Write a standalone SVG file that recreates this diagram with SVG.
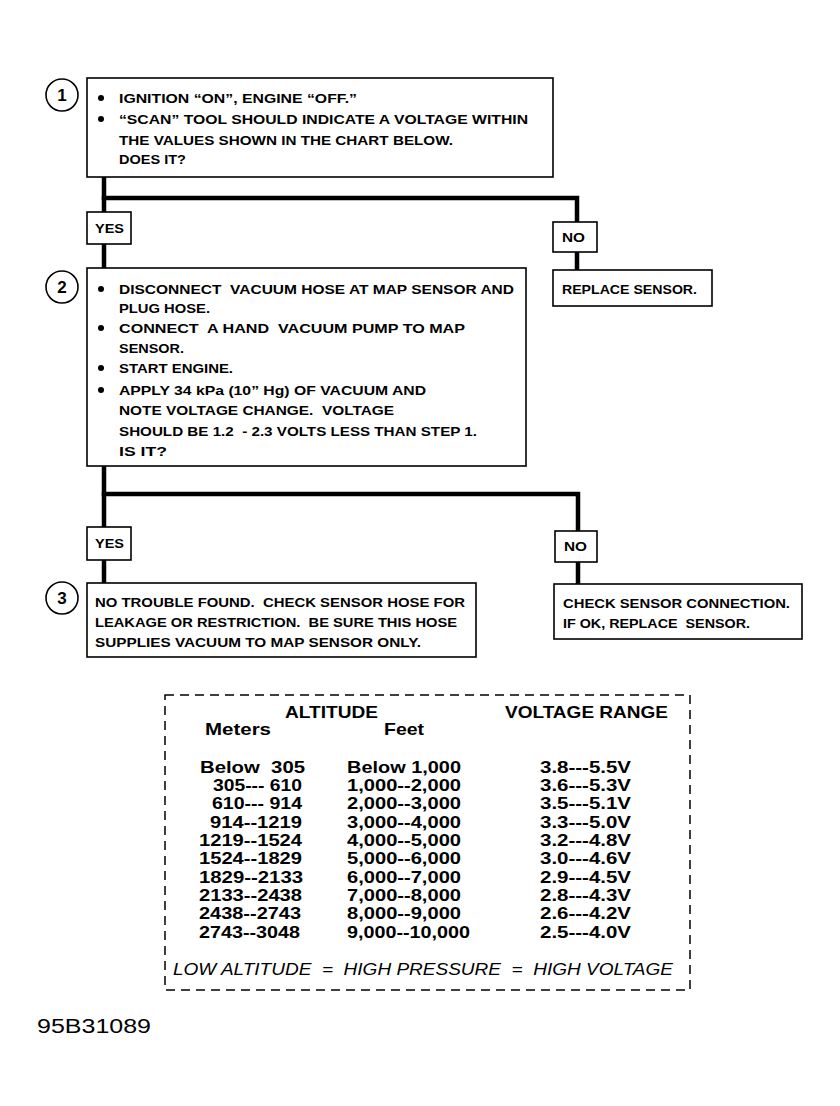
<svg xmlns="http://www.w3.org/2000/svg" width="840" height="1106" viewBox="0 0 840 1106">
<style>
text{white-space:pre}
.box{fill:#fff;stroke:#000;stroke-width:1.6}
.conn{fill:none;stroke:#000;stroke-width:4.5;stroke-linecap:square}
.t{font-family:"Liberation Sans",Arial,sans-serif;font-weight:bold;font-size:13px;fill:#000}
.num{font-family:"Liberation Sans",Arial,sans-serif;font-weight:bold;font-size:17px;fill:#000;text-anchor:middle}
.tb{font-family:"Liberation Sans",Arial,sans-serif;font-weight:bold;font-size:17px;fill:#000}
.it{font-family:"Liberation Sans",Arial,sans-serif;font-style:italic;font-size:17px;fill:#000}
.id{font-family:"Liberation Sans",Arial,sans-serif;font-size:20px;fill:#000}
</style>
<rect width="840" height="1106" fill="#fff"/>
<g id="connectors">
<path class="conn" d="M104,177 V268"/>
<path class="conn" d="M104,198 H577 V222"/>
<path class="conn" d="M577,252 V270"/>
<path class="conn" d="M104,466 V583"/>
<path class="conn" d="M104,494 H578 V531"/>
<path class="conn" d="M578,562 V584"/>
</g>
<g id="step1">
<circle cx="62" cy="95" r="16" fill="#fff" stroke="#000" stroke-width="1.6"/>
<text class="num" x="62" y="101">1</text>
<rect class="box" x="87" y="78" width="466" height="99"/>
<circle cx="101" cy="98" r="3"/>
<circle cx="101" cy="119" r="3"/>
<text class="t" x="119" y="103" textLength="238" lengthAdjust="spacingAndGlyphs">IGNITION “ON”, ENGINE “OFF.”</text>
<text class="t" x="119" y="124" textLength="409" lengthAdjust="spacingAndGlyphs">“SCAN” TOOL SHOULD INDICATE A VOLTAGE WITHIN</text>
<text class="t" x="119" y="145" textLength="334" lengthAdjust="spacingAndGlyphs">THE VALUES SHOWN IN THE CHART BELOW.</text>
<text class="t" x="119" y="164" textLength="67" lengthAdjust="spacingAndGlyphs">DOES IT?</text>
</g>
<g id="yes1">
<rect class="box" x="87" y="212" width="44" height="32"/>
<text class="t" x="95" y="233" textLength="29" lengthAdjust="spacingAndGlyphs">YES</text>
</g>
<g id="no1">
<rect class="box" x="553" y="222" width="44" height="30"/>
<text class="t" x="562" y="242" textLength="23" lengthAdjust="spacingAndGlyphs">NO</text>
</g>
<g id="replace">
<rect class="box" x="553" y="270" width="159" height="36"/>
<text class="t" x="562" y="294" textLength="135" lengthAdjust="spacingAndGlyphs">REPLACE SENSOR.</text>
</g>
<g id="step2">
<circle cx="62" cy="287" r="16" fill="#fff" stroke="#000" stroke-width="1.6"/>
<text class="num" x="62" y="293">2</text>
<rect class="box" x="87" y="268" width="439" height="198"/>
<circle cx="101" cy="289" r="3"/>
<circle cx="101" cy="328" r="3"/>
<circle cx="101" cy="368" r="3"/>
<circle cx="101" cy="390" r="3"/>
<text class="t" x="119" y="294" textLength="395" lengthAdjust="spacingAndGlyphs">DISCONNECT  VACUUM HOSE AT MAP SENSOR AND</text>
<text class="t" x="119" y="313" textLength="91" lengthAdjust="spacingAndGlyphs">PLUG HOSE.</text>
<text class="t" x="119" y="333" textLength="346" lengthAdjust="spacingAndGlyphs">CONNECT  A HAND  VACUUM PUMP TO MAP</text>
<text class="t" x="119" y="353" textLength="65" lengthAdjust="spacingAndGlyphs">SENSOR.</text>
<text class="t" x="119" y="373" textLength="114" lengthAdjust="spacingAndGlyphs">START ENGINE.</text>
<text class="t" x="119" y="395" textLength="307" lengthAdjust="spacingAndGlyphs">APPLY 34 kPa (10” Hg) OF VACUUM AND</text>
<text class="t" x="119" y="415" textLength="275" lengthAdjust="spacingAndGlyphs">NOTE VOLTAGE CHANGE.  VOLTAGE</text>
<text class="t" x="119" y="436" textLength="358" lengthAdjust="spacingAndGlyphs">SHOULD BE 1.2  - 2.3 VOLTS LESS THAN STEP 1.</text>
<text class="t" x="119" y="456" textLength="48" lengthAdjust="spacingAndGlyphs">IS IT?</text>
</g>
<g id="yes2">
<rect class="box" x="87" y="527" width="44" height="33"/>
<text class="t" x="95" y="548" textLength="29" lengthAdjust="spacingAndGlyphs">YES</text>
</g>
<g id="no2">
<rect class="box" x="555" y="531" width="42" height="31"/>
<text class="t" x="564" y="551" textLength="23" lengthAdjust="spacingAndGlyphs">NO</text>
</g>
<g id="step3">
<circle cx="62" cy="598" r="16" fill="#fff" stroke="#000" stroke-width="1.6"/>
<text class="num" x="62" y="604">3</text>
<rect class="box" x="87" y="583" width="389" height="74"/>
<text class="t" x="95" y="607" textLength="370" lengthAdjust="spacingAndGlyphs">NO TROUBLE FOUND.  CHECK SENSOR HOSE FOR</text>
<text class="t" x="95" y="627" textLength="362" lengthAdjust="spacingAndGlyphs">LEAKAGE OR RESTRICTION.  BE SURE THIS HOSE</text>
<text class="t" x="95" y="647" textLength="326" lengthAdjust="spacingAndGlyphs">SUPPLIES VACUUM TO MAP SENSOR ONLY.</text>
</g>
<g id="checkconn">
<rect class="box" x="554" y="584" width="248" height="55"/>
<text class="t" x="563" y="608" textLength="227" lengthAdjust="spacingAndGlyphs">CHECK SENSOR CONNECTION.</text>
<text class="t" x="563" y="628" textLength="187" lengthAdjust="spacingAndGlyphs">IF OK, REPLACE  SENSOR.</text>
</g>
<g id="chart">
<rect x="165" y="695" width="525" height="295" fill="none" stroke="#000" stroke-width="1.5" stroke-dasharray="9,6"/>
<text class="tb" x="285" y="718" textLength="93" lengthAdjust="spacingAndGlyphs">ALTITUDE</text>
<text class="tb" x="505" y="718" textLength="163" lengthAdjust="spacingAndGlyphs">VOLTAGE RANGE</text>
<text class="tb" x="205" y="735" textLength="66" lengthAdjust="spacingAndGlyphs">Meters</text>
<text class="tb" x="384" y="735" textLength="40" lengthAdjust="spacingAndGlyphs">Feet</text>
<g class="tb">
<text x="200" y="773" textLength="105" lengthAdjust="spacingAndGlyphs">Below  305</text>
<text x="213" y="791" textLength="89" lengthAdjust="spacingAndGlyphs">305--- 610</text>
<text x="212" y="809" textLength="90" lengthAdjust="spacingAndGlyphs">610--- 914</text>
<text x="210" y="828" textLength="92" lengthAdjust="spacingAndGlyphs">914--1219</text>
<text x="199" y="846" textLength="103" lengthAdjust="spacingAndGlyphs">1219--1524</text>
<text x="199" y="864" textLength="103" lengthAdjust="spacingAndGlyphs">1524--1829</text>
<text x="199" y="883" textLength="104" lengthAdjust="spacingAndGlyphs">1829--2133</text>
<text x="199" y="901" textLength="103" lengthAdjust="spacingAndGlyphs">2133--2438</text>
<text x="199" y="919" textLength="102" lengthAdjust="spacingAndGlyphs">2438--2743</text>
<text x="199" y="938" textLength="101" lengthAdjust="spacingAndGlyphs">2743--3048</text>
</g>
<g class="tb">
<text x="347" y="773" textLength="114" lengthAdjust="spacingAndGlyphs">Below 1,000</text>
<text x="347" y="791" textLength="114" lengthAdjust="spacingAndGlyphs">1,000--2,000</text>
<text x="347" y="809" textLength="114" lengthAdjust="spacingAndGlyphs">2,000--3,000</text>
<text x="347" y="828" textLength="114" lengthAdjust="spacingAndGlyphs">3,000--4,000</text>
<text x="347" y="846" textLength="114" lengthAdjust="spacingAndGlyphs">4,000--5,000</text>
<text x="347" y="864" textLength="114" lengthAdjust="spacingAndGlyphs">5,000--6,000</text>
<text x="347" y="883" textLength="114" lengthAdjust="spacingAndGlyphs">6,000--7,000</text>
<text x="347" y="901" textLength="114" lengthAdjust="spacingAndGlyphs">7,000--8,000</text>
<text x="347" y="919" textLength="114" lengthAdjust="spacingAndGlyphs">8,000--9,000</text>
<text x="347" y="938" textLength="123" lengthAdjust="spacingAndGlyphs">9,000--10,000</text>
</g>
<g class="tb">
<text x="540" y="773" textLength="91" lengthAdjust="spacingAndGlyphs">3.8---5.5V</text>
<text x="540" y="791" textLength="91" lengthAdjust="spacingAndGlyphs">3.6---5.3V</text>
<text x="540" y="809" textLength="91" lengthAdjust="spacingAndGlyphs">3.5---5.1V</text>
<text x="540" y="828" textLength="91" lengthAdjust="spacingAndGlyphs">3.3---5.0V</text>
<text x="540" y="846" textLength="91" lengthAdjust="spacingAndGlyphs">3.2---4.8V</text>
<text x="540" y="864" textLength="91" lengthAdjust="spacingAndGlyphs">3.0---4.6V</text>
<text x="540" y="883" textLength="91" lengthAdjust="spacingAndGlyphs">2.9---4.5V</text>
<text x="540" y="901" textLength="91" lengthAdjust="spacingAndGlyphs">2.8---4.3V</text>
<text x="540" y="919" textLength="91" lengthAdjust="spacingAndGlyphs">2.6---4.2V</text>
<text x="540" y="938" textLength="91" lengthAdjust="spacingAndGlyphs">2.5---4.0V</text>
</g>
<text class="it" x="173" y="975" textLength="500" lengthAdjust="spacingAndGlyphs">LOW ALTITUDE  =  HIGH PRESSURE  =  HIGH VOLTAGE</text>
</g>
<text class="id" x="37" y="1033" textLength="114" lengthAdjust="spacingAndGlyphs">95B31089</text>
</svg>
